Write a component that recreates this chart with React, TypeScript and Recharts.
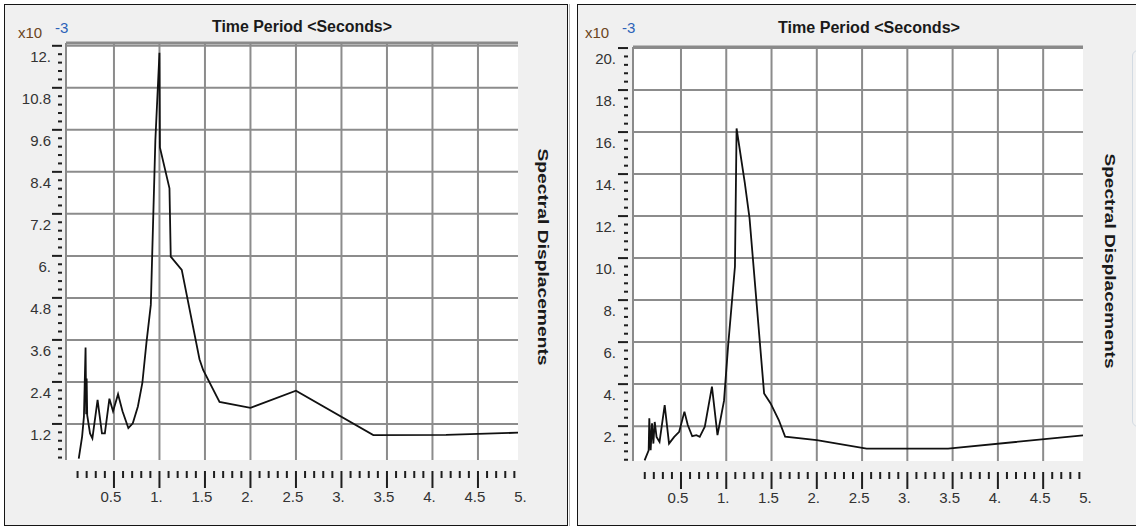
import { LineChart, Line, XAxis, YAxis, ReferenceLine, ReferenceArea } from "recharts";

const FONT = '"Liberation Sans", Arial, sans-serif';

// Left plot: period (s) vs spectral displacement (x10^-3)
const leftPeriods = [
  0.113, 0.15, 0.17, 0.188, 0.195, 0.2, 0.206, 0.237, 0.263, 0.32, 0.368, 0.4, 0.45, 0.49,
  0.545, 0.594, 0.658, 0.707, 0.763, 0.812, 0.857, 0.905, 0.955, 1.0, 1.005, 1.11, 1.124,
  1.245, 1.44, 1.48, 1.66, 2.0, 2.5, 3.35, 4.15, 4.94,
];
const leftDisp = [
  0.21, 0.84, 1.41, 3.38, 1.48, 2.5, 1.45, 0.93, 0.79, 1.89, 0.93, 0.93, 1.92, 1.56,
  2.05, 1.56, 1.08, 1.22, 1.7, 2.37, 3.52, 4.6, 9.3, 11.8, 9.1, 7.93, 5.98,
  5.6, 3.05, 2.74, 1.83, 1.66, 2.15, 0.88, 0.89, 0.95,
];

// Right plot
const rightPeriods = [
  0.098, 0.143, 0.15, 0.165, 0.18, 0.195, 0.21, 0.23, 0.263, 0.32, 0.368, 0.425, 0.48,
  0.538, 0.575, 0.624, 0.67, 0.707, 0.763, 0.842, 0.903, 0.975, 1.02, 1.096, 1.114,
  1.204, 1.257, 1.418, 1.49, 1.58, 1.65, 2.0, 2.55, 3.45, 4.94,
];
const rightDisp = [
  0.37, 0.85, 2.37, 0.85, 2.13, 1.17, 2.2, 1.49, 1.25, 3.0, 1.17, 1.49, 1.73,
  2.69, 2.05, 1.52, 1.57, 1.49, 1.97, 3.88, 1.57, 3.2, 5.8, 9.6, 16.17,
  13.6, 11.9, 3.56, 3.08, 2.29, 1.5, 1.33, 0.93, 0.93, 1.56,
];

const xTickValues = [0.5, 1, 1.5, 2, 2.5, 3, 3.5, 4, 4.5, 5];
const xTickLabels = ["0.5", "1.", "1.5", "2.", "2.5", "3.", "3.5", "4.", "4.5", "5."];

const leftYTicks = [1.2, 2.4, 3.6, 4.8, 6, 7.2, 8.4, 9.6, 10.8, 12];
const leftYLabels = ["1.2", "2.4", "3.6", "4.8", "6.", "7.2", "8.4", "9.6", "10.8", "12."];

const rightYTicks = [2, 4, 6, 8, 10, 12, 14, 16, 18, 20];
const rightYLabels = ["2.", "4.", "6.", "8.", "10.", "12.", "14.", "16.", "18.", "20."];

// minor tick positions (5 per major step)
const xMinor = Array.from({ length: 49 }, (_, i) => +((i + 1) * 0.1).toFixed(2));
const leftYMinor = Array.from({ length: 50 }, (_, i) => +((i + 1) * 0.24).toFixed(3));
const rightYMinor = Array.from({ length: 50 }, (_, i) => +((i + 1) * 0.4).toFixed(2));

const near = (a: number, b: number) => Math.abs(a - b) < 1e-6;

interface PanelProps {
  left: number;
  width: number;
  chartWidth: number;
  periods: number[];
  values: number[];
  yTicks: number[];
  yLabels: string[];
  yMinor: number[];
  xDomain: [number, number];
  yDomain: [number, number];
  plotLeft: number;
  plotRight: number;
  plotTop: number;
  plotBottom: number;
  yMarkGap: number;
  yLabelGap: number;
  titleX: number;
  titleY: number;
  titleLen: number;
  expX: number;
  expY: number;
  sideX: number;
  sideY: number;
  sideLen: number;
}

function Panel(p: PanelProps) {
  const data = p.periods.map((t, i) => ({ t, v: p.values[i] }));
  const H = 520;
  const pxPerUnit = (p.plotRight - p.plotLeft) / (p.xDomain[1] - p.xDomain[0]);

  const XTick = (props: any) => {
    const { x, y, payload } = props;
    const v = payload.value;
    const idx = xTickValues.findIndex((m) => near(m, v));
    const major = idx >= 0;
    const last = near(v, 4.9);
    const lastLabelX = x + (xTickValues[xTickValues.length - 1] - v) * pxPerUnit;
    return (
      <g>
        <rect x={x - 1} y={y + 11} width={2} height={major ? 17 : 7} fill="#1e1e1e" />
        {major && (
          <text x={x - 3} y={y + 42} textAnchor="middle" fontSize={15} fontFamily={FONT} fill="#333">
            {xTickLabels[idx]}
          </text>
        )}
        {last && (
          <text x={lastLabelX - 3} y={y + 42} textAnchor="middle" fontSize={15} fontFamily={FONT} fill="#333">
            {xTickLabels[xTickLabels.length - 1]}
          </text>
        )}
      </g>
    );
  };

  const YTick = (props: any) => {
    const { x, y, payload } = props;
    const idx = p.yTicks.findIndex((m) => near(m, payload.value));
    const major = idx >= 0;
    const len = major ? 10 : 4;
    return (
      <g>
        <rect x={x - p.yMarkGap - len} y={y - 1} width={len} height={2} fill="#1e1e1e" />
        {major && (
          <text x={x - p.yLabelGap} y={y + 16} textAnchor="end" fontSize={15} fontFamily={FONT} fill="#333">
            {p.yLabels[idx]}
          </text>
        )}
      </g>
    );
  };

  return (
    <div
      style={{
        position: "absolute",
        left: p.left,
        top: 4,
        width: p.width,
        height: 522,
        boxSizing: "border-box",
        border: "1px solid #151515",
        background: "#f0f0f0",
      }}
    >
      <LineChart
        width={p.chartWidth}
        height={H}
        data={data}
        margin={{ top: p.plotTop, right: p.chartWidth - p.plotRight, left: 0, bottom: 0 }}
      >
        <XAxis
          type="number"
          dataKey="t"
          domain={p.xDomain}
          ticks={xMinor}
          interval={0}
          height={H - p.plotBottom}
          tickSize={0}
          tickMargin={0}
          axisLine={false}
          tickLine={false}
          tick={XTick}
        />
        <YAxis
          type="number"
          domain={p.yDomain}
          ticks={p.yMinor}
          interval={0}
          width={p.plotLeft}
          tickSize={0}
          tickMargin={0}
          axisLine={{ stroke: "#8a8a8a", strokeWidth: 2 }}
          tickLine={false}
          tick={YTick}
        />
        <ReferenceArea
          x1={p.xDomain[0]}
          x2={p.xDomain[1]}
          y1={p.yDomain[0]}
          y2={p.yDomain[1]}
          fill="#ffffff"
          fillOpacity={1}
          stroke="none"
        />
        {xTickValues.slice(0, -1).map((v) => (
          <ReferenceLine key={"vx" + v} x={v} stroke="#8c8c8c" strokeWidth={2} />
        ))}
        {p.yTicks.map((v) => (
          <ReferenceLine key={"hy" + v} y={v} stroke="#8c8c8c" strokeWidth={2} />
        ))}
        <ReferenceLine y={p.yDomain[1]} stroke="#8a8a8a" strokeWidth={3} />
        <Line
          type="linear"
          dataKey="v"
          stroke="#111111"
          strokeWidth={1.8}
          dot={false}
          isAnimationActive={false}
        />
      </LineChart>
      <svg
        width={p.chartWidth}
        height={H}
        style={{ position: "absolute", left: 0, top: 0, pointerEvents: "none" }}
      >
        <text
          x={p.titleX}
          y={p.titleY}
          textAnchor="middle"
          fontSize={16}
          fontWeight="bold"
          fontFamily={FONT}
          fill="#1a1a1a"
          textLength={p.titleLen}
          lengthAdjust="spacingAndGlyphs"
        >
          Time Period &lt;Seconds&gt;
        </text>
        <text x={p.expX} y={p.expY} fontSize={15} fontFamily={FONT} fill="#6b4520">
          x10
        </text>
        <text x={p.expX + 37} y={p.expY - 5} fontSize={15} fontFamily={FONT} fill="#2b62b8">
          -3
        </text>
        <text
          x={p.sideX}
          y={p.sideY}
          textAnchor="middle"
          dominantBaseline="central"
          fontSize={15}
          fontWeight="bold"
          fontFamily={FONT}
          fill="#1a1a1a"
          textLength={p.sideLen}
          lengthAdjust="spacingAndGlyphs"
          transform={`rotate(90, ${p.sideX}, ${p.sideY})`}
        >
          Spectral Displacements
        </text>
      </svg>
    </div>
  );
}

export default function App() {
  return (
    <div
      style={{
        position: "absolute",
        left: 0,
        top: 0,
        width: 1136,
        height: 530,
        overflow: "hidden",
        background: "#ffffff",
      }}
    >
      <Panel
        left={4}
        width={564}
        chartWidth={562}
        periods={leftPeriods}
        values={leftDisp}
        yTicks={leftYTicks}
        yLabels={leftYLabels}
        yMinor={leftYMinor}
        xDomain={[-0.027, 4.94]}
        yDomain={[0.17, 12.08]}
        plotLeft={61}
        plotRight={513}
        plotTop={38}
        plotBottom={455}
        yMarkGap={4}
        yLabelGap={15}
        titleX={297}
        titleY={27}
        titleLen={180}
        expX={13}
        expY={33}
        sideX={538}
        sideY={252}
        sideLen={217}
      />
      <div style={{ position: "absolute", left: 569, top: 4, width: 1, height: 522, background: "#b8b8b8" }} />
      <Panel
        left={577}
        width={600}
        chartWidth={560}
        periods={rightPeriods}
        values={rightDisp}
        yTicks={rightYTicks}
        yLabels={rightYLabels}
        yMinor={rightYMinor}
        xDomain={[-0.03, 4.94]}
        yDomain={[0.34, 20.05]}
        plotLeft={55}
        plotRight={505}
        plotTop={42}
        plotBottom={456}
        yMarkGap={5}
        yLabelGap={17}
        titleX={291}
        titleY={28}
        titleLen={182}
        expX={7}
        expY={33}
        sideX={532}
        sideY={256}
        sideLen={215}
      />
      <div
        style={{
          position: "absolute",
          left: 1132,
          top: 50,
          width: 30,
          height: 377,
          boxSizing: "border-box",
          border: "1px solid #d3dbe3",
          borderRadius: 6,
          background: "#f2f2f2",
        }}
      />
    </div>
  );
}
